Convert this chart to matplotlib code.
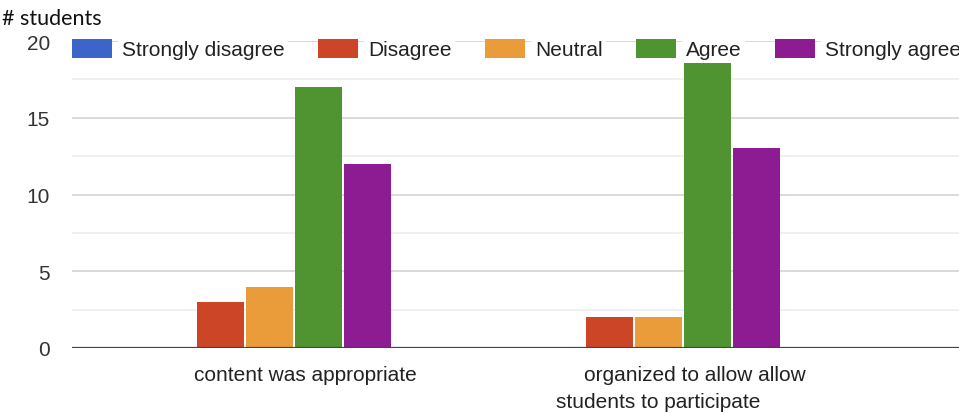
import matplotlib
matplotlib.use("Agg")
import matplotlib.pyplot as plt
import matplotlib.transforms as mtransforms
import numpy as np

# Survey responses per statement
levels = ["Strongly disagree", "Disagree", "Neutral", "Agree", "Strongly agree"]
colors = ["#3d64c8", "#cc4527", "#eb9c3a", "#4f9431", "#8d1b92"]
statements = [["content was appropriate"],
              ["organized to allow allow", "students to participate"]]
strongly_disagree = [0, 0]
disagree = [3, 2]
neutral = [4, 2]
agree = [17, 19]
strongly_agree = [12, 13]
y_ticks = [0, 5, 10, 15, 20]

series = [strongly_disagree, disagree, neutral, agree, strongly_agree]

plt.rcParams["font.family"] = ["Liberation Sans", "DejaVu Sans"]

W, H = 959, 414
fig = plt.figure(figsize=(W / 100, H / 100), dpi=100)
ax = fig.add_axes([72 / W, 1 - 349 / H, 1 - 72 / W, (349 - 42) / H])

x = np.arange(len(statements))
pitch = 0.126
for i, (name, col, vals) in enumerate(zip(levels, colors, series)):
    ax.bar(x + (i - 2) * pitch, vals, width=0.121, color=col, label=name, zorder=2)

ax.set_xlim(-0.508, 1.773)
ax.set_ylim(0, 20)

# gridlines: major every 5, minor every 2.5
ax.set_yticks(y_ticks)
ax.set_yticks(np.arange(2.5, 20, 5), minor=True)
ax.grid(axis="y", which="major", color="#cfcfcf", lw=1.1, zorder=0)
ax.grid(axis="y", which="minor", color="#ececec", lw=1.1, zorder=0)
ax.axhline(0, color="#444444", lw=1.6, zorder=3)
for s in ax.spines.values():
    s.set_visible(False)
ax.tick_params(axis="y", which="both", length=0, pad=16, labelsize=15, labelcolor="#333333")
ax.tick_params(axis="x", length=0)
ax.set_xticks([])

# category labels
trans = mtransforms.blended_transform_factory(ax.transData, fig.transFigure)
line_offsets = [0.093, 0.0]
baselines = [381, 408]
for xi, lines in zip(x, statements):
    for j, line in enumerate(lines):
        ax.text(xi + line_offsets[j], 1 - baselines[j] / H, line, transform=trans,
                ha="center", va="baseline", fontsize=15, color="#222222")

fig.text(2 / W, 1 - 25 / H, "# students", fontsize=15.5, family=["Lato", "DejaVu Sans"],
         color="#111111", ha="left", va="baseline")

leg = ax.legend(loc="upper left", bbox_to_anchor=(72 / W, 1 - 39.5 / H),
                bbox_transform=fig.transFigure, ncol=5, frameon=False,
                fontsize=15, borderpad=0, borderaxespad=0,
                handlelength=1.92, handleheight=1.03, handletextpad=0.48,
                columnspacing=1.6)
leg.set_zorder(5)
for t in leg.get_texts():
    t.set_color("#222222")
    t.set_bbox(dict(facecolor="white", edgecolor="none", pad=2.5))

fig.savefig("out.png", dpi=100)
